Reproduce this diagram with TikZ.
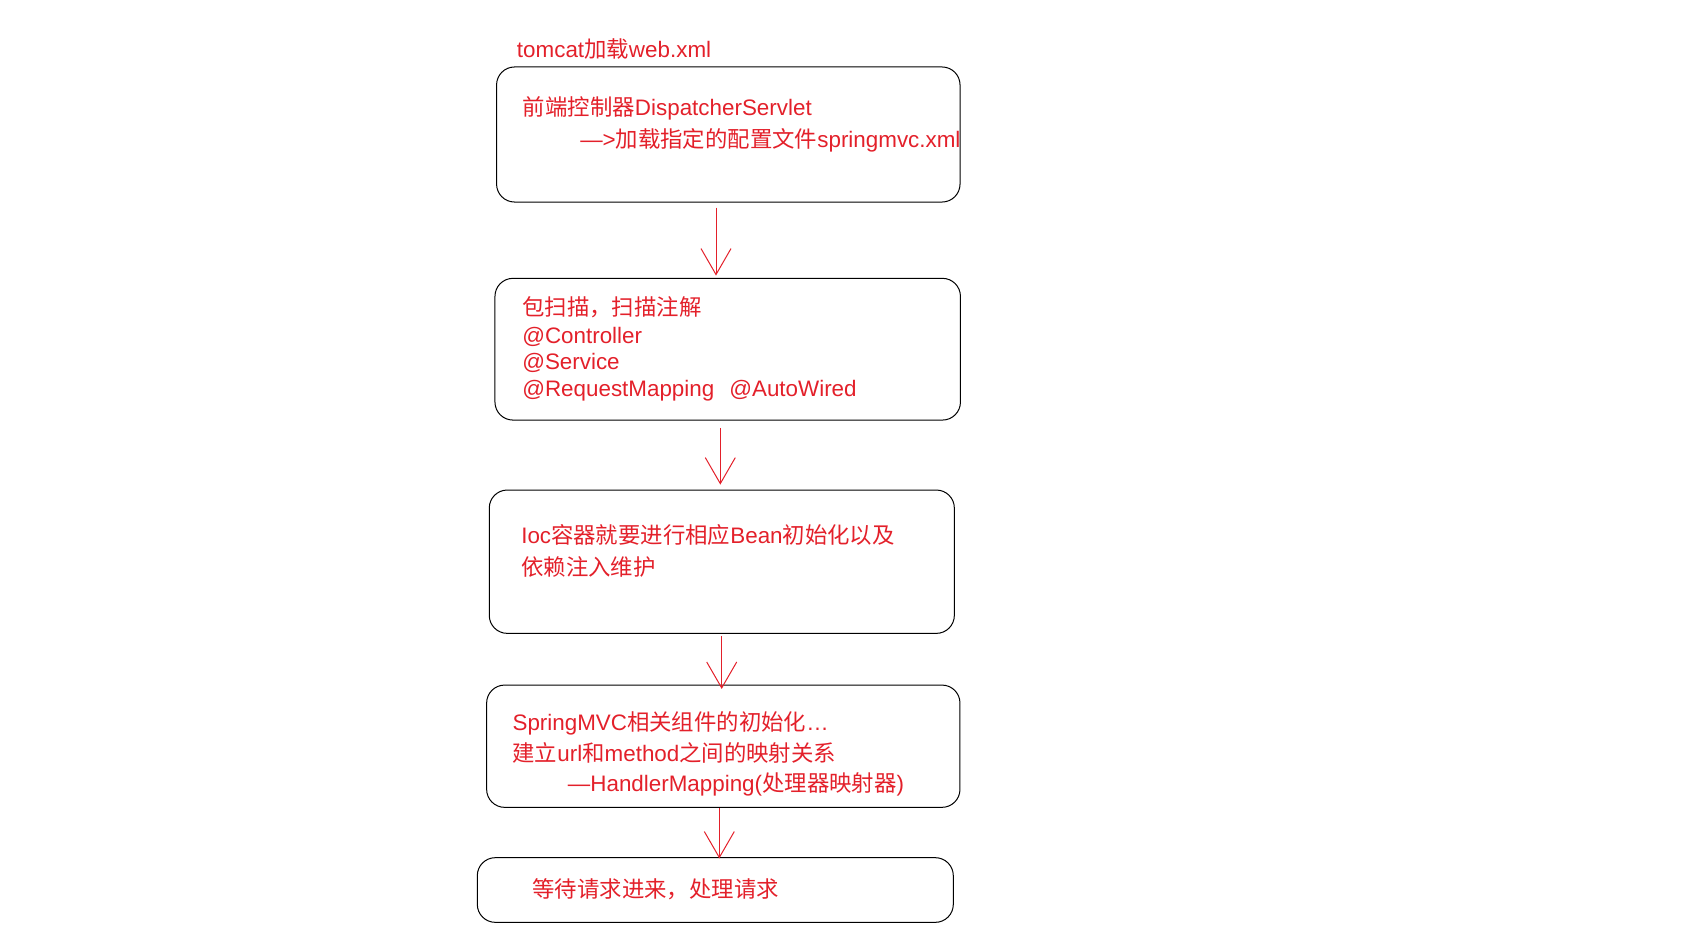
\documentclass[tikz,border=0pt]{standalone}
\usepackage{fontspec}
\setmainfont{Liberation Sans}
\newfontfamily\cjkfont{Noto Sans CJK SC}
\newcommand{\cn}[1]{{\cjkfont #1}}
\usetikzlibrary{arrows.meta,calc}
\definecolor{mvcred}{RGB}{227,32,42}
\tikzset{
  stepbox/.style={draw=black, line width=0.75pt, rounded corners=13.5pt, inner sep=0pt},
  txt/.style={anchor=base west, inner sep=0pt, text=mvcred, font=\fontsize{16.8}{20}\selectfont},
  flow/.style={draw=mvcred, line width=0.75pt, -{Straight Barb[length=19.5pt,width=22.5pt]}}
}
\begin{document}
\begin{tikzpicture}[x=0.75pt, y=-0.75pt]
    % page size
    \useasboundingbox (0,0) rectangle (1694,942);

    % Boxes
    \node[stepbox, minimum width=347.6pt, minimum height=101.3pt] (b1) at (728.3,134.5) {};
    \node[stepbox, minimum width=349.1pt, minimum height=106.3pt] (b2) at (727.7,349.2) {};
    \node[stepbox, minimum width=348.8pt, minimum height=107.5pt] (b3) at (721.8,561.7) {};
    \node[stepbox, minimum width=355.0pt, minimum height=91.7pt] (b4) at (723.3,746.2) {};
    \node[stepbox, minimum width=357.0pt, minimum height=48.5pt] (b5) at (715.3,890) {};

    % Title
    \node[txt] (title) at (516.7,58) {tomcat\cn{加载}web.xml};

    % Box 1 text
    \node[txt] (t11) at (522.7,115) {\cn{前端控制器}DispatcherServlet};
    \node[txt] (t12) at (580,147) {—>\cn{加载指定的配置文件}springmvc.xml};

    % Box 2 text
    \node[txt] (t21) at (522,315) {\cn{包扫描，扫描注解}};
    \node[txt] (t22) at (522,343) {@Controller};
    \node[txt] (t23) at (522,369) {@Service};
    \node[txt] (t24) at (522,396) {@RequestMapping\hspace{0.67em}@AutoWired};

    % Box 3 text
    \node[txt] (t31) at (521,543) {Ioc\cn{容器就要进行相应}Bean\cn{初始化以及}};
    \node[txt] (t32) at (521,575) {\cn{依赖注入维护}};

    % Box 4 text
    \node[txt] (t41) at (512.3,730) {SpringMVC\cn{相关组件的初始化}…};
    \node[txt] (t42) at (512.3,761) {\cn{建立}url\cn{和}method\cn{之间的映射关系}};
    \node[txt] (t43) at (567.7,791) {—HandlerMapping(\cn{处理器映射器})};

    % Box 5 text
    \node[txt] (t51) at (532.3,897) {\cn{等待请求进来，处理请求}};

    % Arrows between the steps
    \coordinate (a1) at ($(b1.south)+(-12.3,5)$);
    \coordinate (a2) at ($(b2.south)+(-7.4,7.3)$);
    \coordinate (a3) at ($(b3.south)+(-0.1,2)$);
    \coordinate (a4) at ($(b4.south)+(-4,0)$);
    \draw[flow, shorten >=1.7pt] (a1) -- (a1 |- b2.north);
    \draw[flow, shorten >=3.7pt] (a2) -- (a2 |- b3.north);
    \draw[flow, shorten >=-3.3pt] (a3) -- (a3 |- b4.north);
    \draw[flow, shorten >=-1pt] (a4) -- (a4 |- b5.north);
\end{tikzpicture}
\end{document}
